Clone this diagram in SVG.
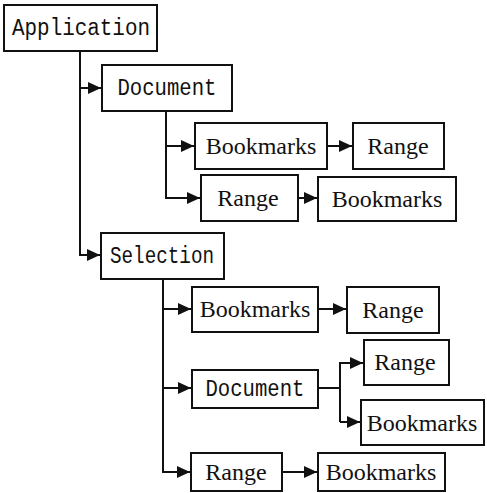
<svg xmlns="http://www.w3.org/2000/svg" width="487" height="493" viewBox="0 0 487 493">
<style>
.box{fill:#fff;stroke:#111;stroke-width:2}
.mono{font-family:"Liberation Mono","DejaVu Sans Mono",monospace;font-size:23px;fill:#111;text-anchor:middle}
.serif{font-family:"Liberation Serif","Times New Roman",serif;font-size:24px;fill:#111;text-anchor:middle}
.c{fill:none;stroke:#111;stroke-width:2}
</style>
<defs>
<marker id="ah" markerUnits="userSpaceOnUse" markerWidth="14" markerHeight="12" refX="13" refY="6" orient="auto">
<path d="M0,0 L13,6 L0,12 Z" fill="#111"/>
</marker>
</defs>
<rect width="487" height="493" fill="#fff"/>
<g id="connectors">
<path class="c" d="M80,51 V255 H100" marker-end="url(#ah)"/>
<path class="c" d="M80,88 H101" marker-end="url(#ah)"/>
<path class="c" d="M166,111 V198 H200" marker-end="url(#ah)"/>
<path class="c" d="M166,146 H194" marker-end="url(#ah)"/>
<path class="c" d="M327,146 H352" marker-end="url(#ah)"/>
<path class="c" d="M298,198 H317" marker-end="url(#ah)"/>
<path class="c" d="M163,279 V472 H190" marker-end="url(#ah)"/>
<path class="c" d="M163,309 H191" marker-end="url(#ah)"/>
<path class="c" d="M163,388 H191" marker-end="url(#ah)"/>
<path class="c" d="M318,309 H346" marker-end="url(#ah)"/>
<path class="c" d="M318,388 H340"/>
<path class="c" d="M340,422 V363 H363" marker-end="url(#ah)"/>
<path class="c" d="M340,422 H360" marker-end="url(#ah)"/>
<path class="c" d="M282,472 H317" marker-end="url(#ah)"/>
</g>
<g id="application"><rect class="box" x="4" y="5" width="153" height="46"/><text class="mono" x="81" y="35" textLength="138" lengthAdjust="spacingAndGlyphs">Application</text></g>
<g id="document1"><rect class="box" x="102" y="65" width="130" height="46"/><text class="mono" x="167" y="95" textLength="99" lengthAdjust="spacingAndGlyphs">Document</text></g>
<g id="bookmarks1"><rect class="box" x="195" y="123" width="132" height="46"/><text class="serif" x="261" y="154">Bookmarks</text></g>
<g id="range1"><rect class="box" x="353" y="123" width="91" height="46"/><text class="serif" x="398" y="154">Range</text></g>
<g id="range2"><rect class="box" x="201" y="175" width="97" height="46"/><text class="serif" x="248" y="206">Range</text></g>
<g id="bookmarks2"><rect class="box" x="318" y="177" width="138" height="44"/><text class="serif" x="387" y="207">Bookmarks</text></g>
<g id="selection"><rect class="box" x="101" y="233" width="123" height="46"/><text class="mono" x="162" y="263" textLength="104" lengthAdjust="spacingAndGlyphs">Selection</text></g>
<g id="bookmarks3"><rect class="box" x="192" y="287" width="126" height="45"/><text class="serif" x="255" y="317">Bookmarks</text></g>
<g id="range3"><rect class="box" x="347" y="287" width="92" height="46"/><text class="serif" x="393" y="318">Range</text></g>
<g id="document2"><rect class="box" x="192" y="370" width="126" height="38"/><text class="mono" x="255" y="396" textLength="99" lengthAdjust="spacingAndGlyphs">Document</text></g>
<g id="range4"><rect class="box" x="364" y="340" width="85" height="45"/><text class="serif" x="405" y="370">Range</text></g>
<g id="bookmarks4"><rect class="box" x="361" y="400" width="123" height="45"/><text class="serif" x="422" y="431">Bookmarks</text></g>
<g id="range5"><rect class="box" x="191" y="453" width="91" height="38"/><text class="serif" x="236" y="480">Range</text></g>
<g id="bookmarks5"><rect class="box" x="318" y="453" width="127" height="38"/><text class="serif" x="381" y="480">Bookmarks</text></g>
</svg>
